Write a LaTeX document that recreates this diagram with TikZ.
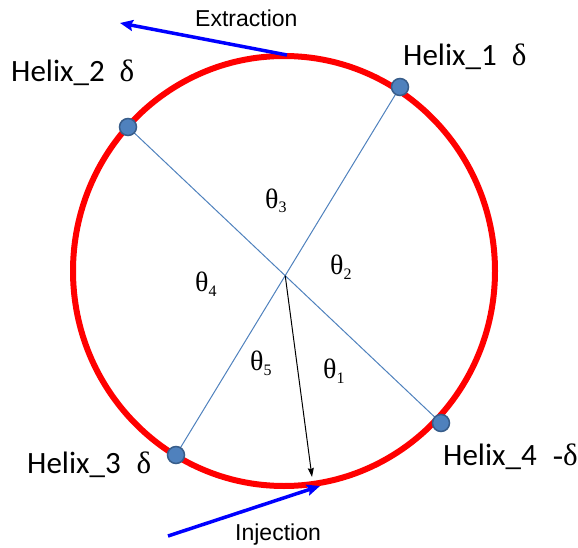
\documentclass[tikz,border=0pt]{standalone}
\usepackage{fontspec}
\setmainfont{Carlito}
\newfontfamily\arialf{Liberation Sans}
\newfontfamily\timesf{Liberation Serif}
\usetikzlibrary{arrows.meta}
\definecolor{ringred}{HTML}{FF0000}
\definecolor{dotblue}{HTML}{4F81BD}
\definecolor{dotedge}{HTML}{385D8A}
\definecolor{arrblue}{HTML}{0000FF}
\newcommand{\thsub}[1]{θ\raisebox{-5pt}{\fontsize{16}{16}\selectfont #1}}
\begin{document}
\begin{tikzpicture}[x=1pt,y=-1pt,
  helixlbl/.style={anchor=base west, inner sep=0, font=\fontsize{31}{31}\selectfont},
  thetalbl/.style={anchor=base west, inner sep=0, font=\timesf\fontsize{28}{28}\selectfont},
  flowlbl/.style={anchor=base west, inner sep=0, font=\arialf\fontsize{23}{23}\selectfont},
  axisline/.style={draw=dotblue, line width=1pt},
  helixdot/.style={circle, fill=dotblue, draw=dotedge, line width=1.5pt, minimum size=17pt, inner sep=0},
  flowarrow/.style={draw=arrblue, line width=3.5pt, -{Stealth[length=13pt,width=11pt,inset=2pt]}},
  radiusarrow/.style={draw=black, line width=1pt, -{Stealth[length=9pt,width=6pt,inset=1pt]}}]
\useasboundingbox (0,0) rectangle (578,548);
\coordinate (c) at (284,271);
\draw[ringred, line width=6pt] (c) ellipse [x radius=211, y radius=215];
% helix positions
\coordinate (p1) at (400,87);
\coordinate (p2) at (128,127);
\coordinate (p3) at (176,455);
\coordinate (p4) at (441,423);
\coordinate (o) at (intersection of p1--p3 and p2--p4);
\draw[axisline] (p1) -- (p3);
\draw[axisline] (p2) -- (p4);
\node[helixdot] (h1) at (p1) {};
\node[helixdot] (h2) at (p2) {};
\node[helixdot] (h3) at (p3) {};
\node[helixdot] (h4) at (p4) {};
% radius arrow
\coordinate (rtip) at (312,477);
\draw[radiusarrow] (o) -- (rtip);
% extraction / injection
\coordinate (xs) at (287,55);
\coordinate (xe) at (120,23);
\draw[flowarrow] (xs) -- (xe);
\coordinate (is) at (168,536);
\coordinate (ie) at (320,486);
\draw[flowarrow] (is) -- (ie);
\node[flowlbl] (ext) at (195,27) {Extraction};
\node[flowlbl] (inj) at (235,540) {Injection};
% helix labels
\node[helixlbl] (l1) at (403,66) {Helix\_1\hspace{15pt}{\timesf δ}};
\node[helixlbl] (l2) at (11,82) {Helix\_2\hspace{15pt}{\timesf δ}};
\node[helixlbl] (l3) at (27,473) {Helix\_3\hspace{16pt}{\timesf δ}};
\node[helixlbl] (l4) at (443,465) {Helix\_4\hspace{16pt}{\timesf -δ}};
% angle labels
\node[thetalbl] (t3) at (265,208) {\thsub{3}};
\node[thetalbl] (t2) at (330,274) {\thsub{2}};
\node[thetalbl] (t4) at (195,291) {\thsub{4}};
\node[thetalbl] (t5) at (250,370) {\thsub{5}};
\node[thetalbl] (t1) at (323,378) {\thsub{1}};
\end{tikzpicture}
\end{document}
